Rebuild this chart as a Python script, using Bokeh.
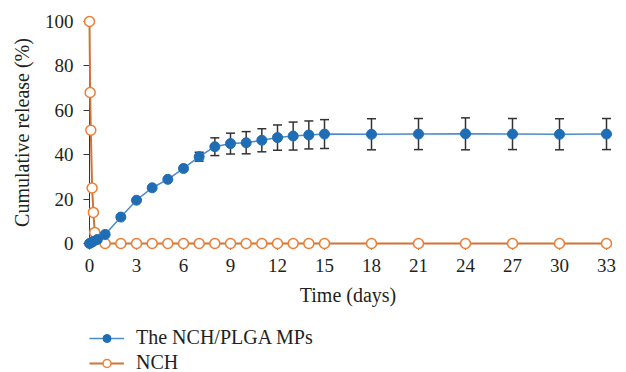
from bokeh.plotting import figure
from bokeh.layouts import column
from bokeh.models import Range1d, Legend, LegendItem, FixedTicker, ColumnDataSource
from bokeh.embed import file_html
from bokeh.resources import INLINE

# ---- data ----
mp_days = [0, 0.125, 0.25, 0.5, 1, 2, 3, 4, 5, 6, 7, 8, 9, 10, 11, 12, 13, 14, 15,
           18, 21, 24, 27, 30, 33]
mp_release = [0, 0.5, 1.0, 1.8, 4.1, 11.9, 19.5, 25.1, 28.9, 33.8, 39.1, 43.6, 45.0,
              45.4, 46.5, 47.7, 48.4, 48.9, 49.3, 49.2, 49.3, 49.4, 49.3, 49.2, 49.3]
mp_err = [0, 0, 0, 0, 0, 0, 0, 0, 0, 0, 2.0, 4.0, 4.7, 5.0, 5.2, 5.7, 6.3, 6.3, 6.5,
          7.0, 7.0, 7.2, 7.0, 7.0, 7.0]

nch_days = [0, 0.042, 0.083, 0.167, 0.25, 0.333, 1, 2, 3, 4, 5, 6, 7, 8, 9, 10, 11,
            12, 13, 14, 15, 18, 21, 24, 27, 30, 33]
nch_release = [100, 68, 51, 25, 14, 5, 0, 0, 0, 0, 0, 0, 0, 0, 0, 0, 0, 0, 0, 0, 0,
               0, 0, 0, 0, 0, 0]

x_ticks = [0, 3, 6, 9, 12, 15, 18, 21, 24, 27, 30, 33]
y_ticks = [0, 20, 40, 60, 80, 100]

series_names = ["The NCH/PLGA MPs", "NCH"]
x_label = "Time (days)"
y_label = "Cumulative release (%)"

# ---- styles ----
FONT = "Liberation Serif"
TEXT = "#231f20"
BLUE = "#1f6db5"
BLUE_LINE = "#4a8ccb"
ORANGE = "#ee7d34"
ORANGE_LINE = "#cf7437"

p = figure(frame_width=517, frame_height=222, output_backend="svg",
           toolbar_location=None, x_range=Range1d(0, 33), y_range=Range1d(0, 100),
           min_border_left=89, min_border_right=20, min_border_top=21,
           min_border_bottom=76)
p.outline_line_color = None
p.grid.visible = False
p.background_fill_color = "white"
p.border_fill_color = "white"

# orange series
nch_src = ColumnDataSource(dict(x=nch_days, y=nch_release))
p.line("x", "y", source=nch_src, line_color=ORANGE_LINE, line_width=2, level="overlay")
p.scatter("x", "y", source=nch_src, size=10, marker="circle", fill_color="white",
          line_color=ORANGE, line_width=1.5, level="overlay")

# error bars
ex = [d for d, e in zip(mp_days, mp_err) if e > 0]
ey = [v for v, e in zip(mp_release, mp_err) if e > 0]
ee = [e for e in mp_err if e > 0]
err_src = ColumnDataSource(dict(x=ex, lo=[v - e for v, e in zip(ey, ee)],
                                hi=[v + e for v, e in zip(ey, ee)]))
p.segment(x0="x", y0="lo", x1="x", y1="hi", source=err_src, line_color="#333333",
          line_width=1.5, level="overlay")
p.scatter("x", "lo", source=err_src, marker="dash", size=9, line_color="#333333",
          line_width=1.5, level="overlay")
p.scatter("x", "hi", source=err_src, marker="dash", size=9, line_color="#333333",
          line_width=1.5, level="overlay")

# blue series
mp_src = ColumnDataSource(dict(x=mp_days, y=mp_release))
p.line("x", "y", source=mp_src, line_color=BLUE_LINE, line_width=1.5, level="overlay")
p.scatter("x", "y", source=mp_src, size=10, marker="circle", fill_color=BLUE,
          line_color=BLUE, level="overlay")

# axes
for ax in (p.xaxis[0], p.yaxis[0]):
    ax.major_label_text_font = FONT
    ax.major_label_text_font_size = "19px"
    ax.major_label_text_color = TEXT
    ax.axis_label_text_font = FONT
    ax.axis_label_text_font_size = "20px"
    ax.axis_label_text_font_style = "normal"
    ax.axis_label_text_color = TEXT
    ax.axis_line_color = "#333333"
    ax.major_tick_line_color = "#333333"
    ax.minor_tick_line_color = None
    ax.major_tick_in = 0
    ax.major_tick_out = 6

p.xaxis[0].ticker = FixedTicker(ticks=x_ticks)
p.yaxis[0].ticker = FixedTicker(ticks=y_ticks)
p.xaxis[0].axis_label = x_label
p.yaxis[0].axis_label = y_label
p.xaxis[0].major_label_standoff = 9
p.xaxis[0].axis_label_standoff = 9
p.yaxis[0].major_label_standoff = 10
p.yaxis[0].axis_label_standoff = 9

# ---- legend strip below the chart (same glyph styles, one hidden NaN point) ----
p2 = figure(width=626, height=53, output_backend="svg", toolbar_location=None,
            x_axis_type=None, y_axis_type=None, min_border=0,
            x_range=Range1d(0, 1), y_range=Range1d(0, 1))
p2.outline_line_color = None
p2.background_fill_color = "white"
p2.border_fill_color = "white"
hidden = ColumnDataSource(dict(x=[float("nan")], y=[float("nan")]))
l_bl = p2.line("x", "y", source=hidden, line_color=BLUE_LINE, line_width=1.5)
l_bs = p2.scatter("x", "y", source=hidden, size=10, marker="circle", fill_color=BLUE,
                  line_color=BLUE)
l_nl = p2.line("x", "y", source=hidden, line_color=ORANGE_LINE, line_width=2)
l_ns = p2.scatter("x", "y", source=hidden, size=10, marker="circle", fill_color="white",
                  line_color=ORANGE, line_width=1.5)

legend = Legend(items=[LegendItem(label=series_names[0], renderers=[l_bl, l_bs]),
                       LegendItem(label=series_names[1], renderers=[l_nl, l_ns])],
                location=(0, -2), orientation="vertical")
legend.label_text_font = FONT
legend.label_text_font_size = "20px"
legend.label_text_color = TEXT
legend.glyph_width = 35
legend.glyph_height = 20
legend.label_height = 20
legend.label_standoff = 12
legend.spacing = 2
legend.padding = 0
legend.margin = 0
legend.border_line_color = None
legend.background_fill_alpha = 0
p2.add_layout(legend)

layout = column(p, p2, spacing=0)
open("out.html", "w").write(file_html(layout, INLINE))
